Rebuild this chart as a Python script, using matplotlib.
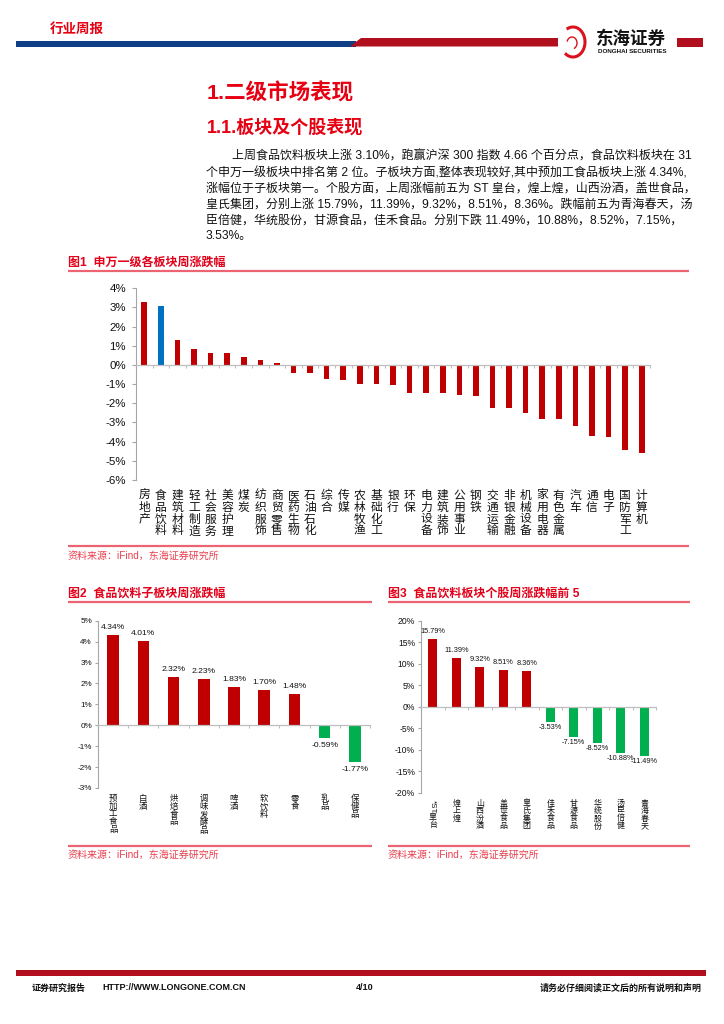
import numpy as np
import matplotlib
matplotlib.use('Agg')
import matplotlib.pyplot as plt
from matplotlib.patches import Rectangle, Polygon
from matplotlib.lines import Line2D
from matplotlib.ticker import FixedLocator, FuncFormatter

plt.rcParams['font.family'] = ['Liberation Sans', 'Noto Sans CJK SC', 'DejaVu Sans']

# ---------------- data ----------------
fig1_categories = ['房地产', '食品饮料', '建筑材料', '轻工制造', '社会服务', '美容护理', '煤炭',
                   '纺织服饰', '商贸零售', '医药生物', '石油石化', '综合', '传媒', '农林牧渔',
                   '基础化工', '银行', '环保', '电力设备', '建筑装饰', '公用事业', '钢铁',
                   '交通运输', '非银金融', '机械设备', '家用电器', '有色金属', '汽车', '通信',
                   '电子', '国防军工', '计算机']
fig1_values = [3.26, 3.10, 1.30, 0.83, 0.63, 0.62, 0.43, 0.26, 0.10, -0.40, -0.42, -0.73,
               -0.76, -0.97, -0.99, -1.03, -1.44, -1.46, -1.46, -1.55, -1.63, -2.26, -2.26,
               -2.50, -2.80, -2.81, -3.16, -3.68, -3.77, -4.44, -4.58]
fig1_highlight = '食品饮料'
fig1_yticks = [-6, -5, -4, -3, -2, -1, 0, 1, 2, 3, 4]

fig2_categories = ['预加工食品', '白酒', '烘焙食品', '调味发酵品', '啤酒', '软饮料', '零食', '乳品', '保健品']
fig2_values = [4.34, 4.01, 2.32, 2.23, 1.83, 1.70, 1.48, -0.59, -1.77]
fig2_yticks = [-3, -2, -1, 0, 1, 2, 3, 4, 5]

fig3_categories = ['*ST皇台', '煌上煌', '山西汾酒', '盖世食品', '皇氏集团', '佳禾食品', '甘源食品',
                   '华统股份', '汤臣倍健', '青海春天']
fig3_values = [15.79, 11.39, 9.32, 8.51, 8.36, -3.53, -7.15, -8.52, -10.88, -11.49]
fig3_yticks = [-20, -15, -10, -5, 0, 5, 10, 15, 20]

paragraph_lines = [
    '上周食品饮料板块上涨 3.10%，跑赢沪深 300 指数 4.66 个百分点，食品饮料板块在 31',
    '个申万一级板块中排名第 2 位。子板块方面,整体表现较好,其中预加工食品板块上涨 4.34%,',
    '涨幅位于子板块第一。个股方面，上周涨幅前五为 ST 皇台，煌上煌，山西汾酒，盖世食品，',
    '皇氏集团，分别上涨 15.79%，11.39%，9.32%，8.51%，8.36%。跌幅前五为青海春天，汤',
    '臣倍健，华统股份，甘源食品，佳禾食品。分别下跌 11.49%，10.88%，8.52%，7.15%，',
    '3.53%。',
]

# ---------------- style ----------------
RED = '#C00000'
GREEN = '#00B050'
BLUE = '#0070C0'
HEAD_RED = '#E60012'
TITLE_RED = '#E2001A'
LINE_PINK = '#EC6472'
SRC_RED = '#E8404F'
BAR_DARKRED = '#B10E1E'
BAR_BLUE = '#0E3E86'
GREY = '#A6A6A6'

W, H = 724, 1024
fig = plt.figure(figsize=(7.24, 10.24), dpi=100)
fig.patch.set_facecolor('white')


def X(px):
    return px / W


def Y(py):
    return 1 - py / H


def PT(px):
    return px * 0.72


def ftext(x, y, s, size_px, color='black', weight='normal', ha='left', va='center', **kw):
    fig.text(X(x), Y(y), s, fontsize=PT(size_px), color=color, fontweight=weight,
             ha=ha, va=va, **kw)


def hline(x0, x1, y, color, lw_px):
    fig.add_artist(Line2D([X(x0), X(x1)], [Y(y), Y(y)], color=color, lw=PT(lw_px),
                          transform=fig.transFigure, solid_capstyle='butt'))


def rect(x0, y0, x1, y1, color):
    fig.add_artist(Rectangle((X(x0), Y(y1)), X(x1) - X(x0), Y(y0) - Y(y1), facecolor=color,
                             edgecolor='none', transform=fig.transFigure))


# ---------------- header ----------------
ftext(50, 29, '行业周报', 13.5, color=HEAD_RED, weight='bold')
rect(16, 41, 356, 46.5, BAR_BLUE)
fig.add_artist(Polygon([(X(350), Y(46.5)), (X(361), Y(38)), (X(558), Y(38)), (X(558), Y(46.5))],
                       closed=True, facecolor=BAR_DARKRED, edgecolor='none',
                       transform=fig.transFigure))
rect(677, 38, 703, 46.5, BAR_DARKRED)
# simple logo swirl
th = np.linspace(np.deg2rad(115), np.deg2rad(-125), 60)
fig.add_artist(Line2D(X(573 + 12 * np.cos(th)), Y(42 - 15 * np.sin(th)), color='#D9121E',
                      lw=2.2, transform=fig.transFigure))
th2 = np.linspace(np.deg2rad(160), np.deg2rad(-60), 40)
fig.add_artist(Line2D(X(572 + 5 * np.cos(th2)), Y(43 - 6 * np.sin(th2)), color='#D9121E',
                      lw=1.0, transform=fig.transFigure))
ftext(596, 38, '东海证券', 17.5, weight='bold', color='#111111')
ftext(598, 51.5, 'DONGHAI SECURITIES', 6.3, weight='bold', color='#111111')

# ---------------- headings & paragraph ----------------
ftext(207, 93, '1.二级市场表现', 21.5, color=HEAD_RED, weight='bold')
ftext(207, 128, '1.1.板块及个股表现', 18, color=HEAD_RED, weight='bold')
for i, line in enumerate(paragraph_lines):
    x0 = 232 if i == 0 else 206
    ftext(x0, 157 + 15.9 * i, line, 12, color='#111111')

# ---------------- figure frames ----------------
ftext(68, 263, '图1  申万一级各板块周涨跌幅', 12, color=TITLE_RED, weight='bold')
hline(68, 689, 271, LINE_PINK, 2.2)
hline(68, 689, 546, LINE_PINK, 2.2)
ftext(68, 556, '资料来源：iFind，东海证券研究所', 10, color=SRC_RED)

ftext(68, 594, '图2  食品饮料子板块周涨跌幅', 12, color=TITLE_RED, weight='bold')
hline(68, 372, 602, LINE_PINK, 2.2)
hline(68, 372, 846, LINE_PINK, 2.2)
ftext(68, 855, '资料来源：iFind，东海证券研究所', 10, color=SRC_RED)

ftext(388, 594, '图3  食品饮料板块个股周涨跌幅前 5', 12, color=TITLE_RED, weight='bold')
hline(388, 690, 602, LINE_PINK, 2.2)
hline(388, 690, 846, LINE_PINK, 2.2)
ftext(388, 855, '资料来源：iFind，东海证券研究所', 10, color=SRC_RED)

# ---------------- footer ----------------
rect(16, 970, 706, 975.5, BAR_DARKRED)
ftext(32, 988, '证券研究报告', 9, weight='bold', color='#111111')
ftext(102, 988, 'HTTP://WWW.LONGONE.COM.CN', 9, weight='bold', color='#111111')
ftext(365, 988, '4/10', 9, weight='bold', color='#111111', ha='center')
ftext(702, 988, '请务必仔细阅读正文后的所有说明和声明', 9, weight='bold', color='#111111', ha='right')


# ---------------- charts ----------------
def style_axes(ax, n, yticks, ytick_px, tick_len_px, pad_px):
    ax.set_xlim(-0.5, n - 0.5)
    ax.set_ylim(yticks[0], yticks[-1])
    for s in ['top', 'right']:
        ax.spines[s].set_visible(False)
    ax.spines['left'].set_color(GREY)
    ax.spines['left'].set_linewidth(0.8)
    ax.spines['bottom'].set_position(('data', 0))
    ax.spines['bottom'].set_color('#BFBFBF')
    ax.spines['bottom'].set_linewidth(0.9)
    ax.xaxis.set_major_locator(FixedLocator(list(range(n))))
    ax.xaxis.set_minor_locator(FixedLocator([i + 0.5 for i in range(-1, n)]))
    ax.tick_params(axis='x', which='major', length=0, labelbottom=False)
    ax.tick_params(axis='x', which='minor', length=PT(3), color='#BFBFBF', width=0.8,
                   direction='out')
    ax.set_yticks(yticks)
    ax.yaxis.set_major_formatter(FuncFormatter(lambda v, p: '%d%%' % v))
    ax.tick_params(axis='y', length=PT(tick_len_px), color=GREY, width=0.8,
                   labelsize=PT(ytick_px), pad=PT(pad_px), labelcolor='#111111')
    ax.patch.set_alpha(0)


def stacked_labels(ax, cats, size_px, pad_px, linespacing):
    for i, name in enumerate(cats):
        pad = pad_px
        if name.startswith('*ST'):
            ax.annotate('*ST', xy=(i, 0), xycoords=('data', 'axes fraction'),
                        xytext=(0, -PT(pad)), textcoords='offset points', rotation=270,
                        ha='center', va='top', fontsize=PT(size_px), color='#111111')
            name = name[3:]
            pad = pad_px + size_px * 1.75
        ax.annotate('\n'.join(name), xy=(i, 0), xycoords=('data', 'axes fraction'),
                    xytext=(0, -PT(pad)), textcoords='offset points', ha='center', va='top',
                    fontsize=PT(size_px), linespacing=linespacing, color='#111111')


# Figure 1
ax1 = fig.add_axes([X(136), Y(480), (650 - 136) / W, (480 - 288.3) / H])
n1 = len(fig1_categories)
c1 = [BLUE if c == fig1_highlight else RED for c in fig1_categories]
ax1.bar(range(n1), fig1_values, width=0.34, color=c1, zorder=2)
style_axes(ax1, n1, fig1_yticks, 11.5, 4, 6)
stacked_labels(ax1, fig1_categories, 11.8, 10, 0.98)

# Figure 2
ax2 = fig.add_axes([X(98), Y(788), 272 / W, (788 - 620.7) / H])
n2 = len(fig2_categories)
c2 = [RED if v >= 0 else GREEN for v in fig2_values]
ax2.bar(range(n2), fig2_values, width=0.38, color=c2, zorder=2)
style_axes(ax2, n2, fig2_yticks, 8.2, 3, 3)
stacked_labels(ax2, fig2_categories, 8.4, 7, 1.0)
for i, v in enumerate(fig2_values):
    ax2.annotate('%.2f%%' % v, xy=(i, v), xytext=(0, PT(4) if v >= 0 else -PT(4)),
                 textcoords='offset points', ha='center', va='bottom' if v >= 0 else 'top',
                 fontsize=PT(8.5), color='#111111')

# Figure 3
ax3 = fig.add_axes([X(421), Y(792.7), 235 / W, (792.7 - 620.7) / H])
n3 = len(fig3_categories)
c3 = [RED if v >= 0 else GREEN for v in fig3_values]
ax3.bar(range(n3), fig3_values, width=0.40, color=c3, zorder=2)
style_axes(ax3, n3, fig3_yticks, 8.6, 3, 3)
stacked_labels(ax3, fig3_categories, 8.0, 7, 1.0)
for i, v in enumerate(fig3_values):
    ax3.annotate('%.2f%%' % v, xy=(i, v), xytext=(0, PT(4) if v >= 0 else -PT(2)),
                 textcoords='offset points', ha='center', va='bottom' if v >= 0 else 'top',
                 fontsize=PT(7.4), color='#111111')

fig.savefig('out.png', dpi=100, facecolor='white')
